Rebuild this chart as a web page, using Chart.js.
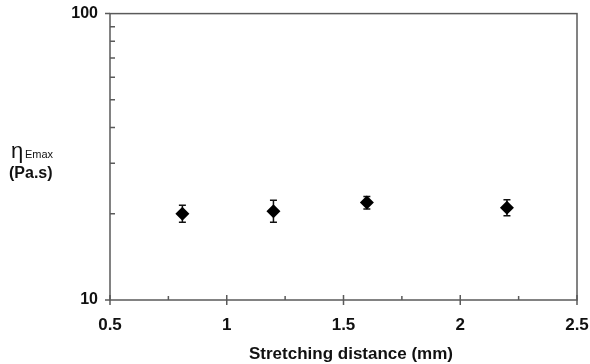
<!DOCTYPE html>
<html>
<head>
<meta charset="utf-8">
<script src="https://cdn.jsdelivr.net/npm/chart.js@4/dist/chart.umd.min.js"></script>
<style>
  html, body { margin: 0; padding: 0; background: #fff; }
  #myChart { display: block; }
</style>
</head>
<body>
<canvas id="myChart" width="590" height="364"></canvas>
<script>
// stretching distance (mm) and extensional viscosity (Pa.s)
var xValues = [0.81, 1.2, 1.6, 2.2];
var yValues = [20.0, 20.4, 21.9, 21.0];
var yLow = [18.7, 18.7, 20.8, 19.7];
var yHigh = [21.4, 22.3, 23.0, 22.4];

var xMajor = [0.5, 1, 1.5, 2, 2.5];
var xMinor = [0.75, 1.25, 1.75, 2.25];
var yMajor = [10, 100];
var yMinor = [20, 30, 40, 50, 60, 70, 80, 90];

var axisColor = "#5a5a5a";
var fontName = "'Liberation Sans', Arial, sans-serif";

// error bars + axis box + tick marks + axis titles
var decor = {
    id: 'decor',
    beforeDatasetsDraw: function (chart) {
        var ctx = chart.ctx;
        var xs = chart.scales.x, ys = chart.scales.y;
        ctx.save();
        ctx.strokeStyle = "#111";
        ctx.lineWidth = 1.5;
        for (var i = 0; i < xValues.length; i++) {
            var px = xs.getPixelForValue(xValues[i]);
            var top = ys.getPixelForValue(yHigh[i]);
            var bot = ys.getPixelForValue(yLow[i]);
            ctx.beginPath();
            ctx.moveTo(px, top); ctx.lineTo(px, bot);
            ctx.moveTo(px - 3.5, top); ctx.lineTo(px + 3.5, top);
            ctx.moveTo(px - 3.5, bot); ctx.lineTo(px + 3.5, bot);
            ctx.stroke();
        }
        ctx.restore();
    },
    afterDraw: function (chart) {
        var ctx = chart.ctx;
        var a = chart.chartArea;
        var xs = chart.scales.x, ys = chart.scales.y;
        ctx.save();
        ctx.strokeStyle = axisColor;
        ctx.lineWidth = 1.5;
        ctx.strokeRect(a.left, a.top, a.right - a.left, a.bottom - a.top);

        ctx.beginPath();
        xMajor.forEach(function (v) {
            var p = xs.getPixelForValue(v);
            ctx.moveTo(p, a.bottom - 5); ctx.lineTo(p, a.bottom + 5);
        });
        xMinor.forEach(function (v) {
            var p = xs.getPixelForValue(v);
            ctx.moveTo(p, a.bottom - 4); ctx.lineTo(p, a.bottom);
        });
        yMajor.forEach(function (v) {
            var p = ys.getPixelForValue(v);
            ctx.moveTo(a.left - 5, p); ctx.lineTo(a.left, p);
        });
        yMinor.forEach(function (v) {
            var p = ys.getPixelForValue(v);
            ctx.moveTo(a.left, p); ctx.lineTo(a.left + 5, p);
        });
        ctx.stroke();

        ctx.fillStyle = "#111";
        ctx.textBaseline = "alphabetic";
        ctx.textAlign = "center";
        ctx.font = "bold 17px " + fontName;
        ctx.fillText("Stretching distance (mm)", 351, 359);

        ctx.textAlign = "left";
        ctx.font = "22px " + fontName;
        ctx.fillText("\u03b7", 11, 158);
        ctx.font = "11px " + fontName;
        ctx.fillText("Emax", 25, 158);
        ctx.font = "bold 16px " + fontName;
        ctx.fillText("(Pa.s)", 9, 178);
        ctx.restore();
    }
};

new Chart("myChart", {
    type: "scatter",
    data: {
        datasets: [{
            data: xValues.map(function (x, i) { return { x: x, y: yValues[i] }; }),
            backgroundColor: "#000",
            borderColor: "#000",
            pointStyle: "rectRot",
            pointRadius: 7,
            pointHoverRadius: 7,
            borderWidth: 0
        }]
    },
    options: {
        responsive: false,
        animation: false,
        events: [],
        layout: { padding: { left: 0, top: 8, right: 13, bottom: 0 } },
        plugins: {
            legend: { display: false },
            tooltip: { enabled: false }
        },
        scales: {
            x: {
                type: "linear",
                min: 0.5,
                max: 2.5,
                grid: { display: false },
                border: { display: false },
                afterBuildTicks: function (scale) {
                    scale.ticks = xMajor.map(function (v) { return { value: v }; });
                },
                afterFit: function (scale) {
                    scale.height = 64;
                    scale.paddingRight = 0;
                    scale.paddingLeft = 0;
                },
                ticks: {
                    maxRotation: 0,
                    padding: 7,
                    color: "#111",
                    font: { family: fontName, size: 17, weight: "bold" },
                    callback: function (v) { return String(v); }
                }
            },
            y: {
                type: "logarithmic",
                min: 10,
                max: 100,
                grid: { display: false },
                border: { display: false },
                afterBuildTicks: function (scale) {
                    scale.ticks = yMajor.map(function (v) { return { value: v }; });
                },
                afterFit: function (scale) { scale.width = 110; },
                ticks: {
                    padding: 4,
                    color: "#111",
                    font: { family: fontName, size: 16, weight: "bold" },
                    callback: function (v) { return String(v); }
                }
            }
        }
    },
    plugins: [decor]
});
</script>
</body>
</html>
